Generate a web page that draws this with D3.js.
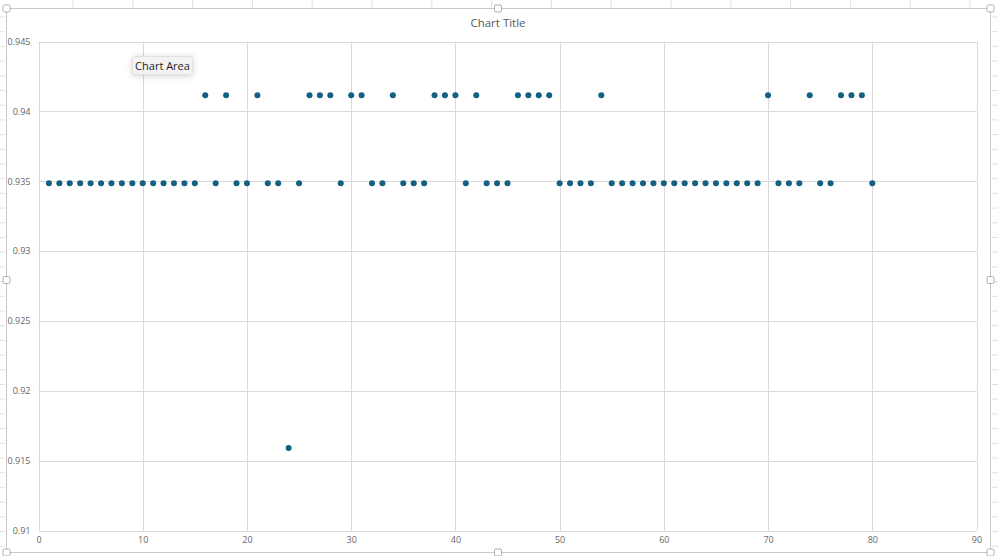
<!DOCTYPE html>
<html><head><meta charset="utf-8">
<script src="https://cdn.jsdelivr.net/npm/d3@7"></script>
<style>
html,body{margin:0;padding:0;background:#fff;}
svg{display:block;font-family:"Open Sans","Liberation Sans",Arial,sans-serif;}
</style></head>
<body><svg id="c" width="998" height="556"></svg>
<script>
// ---- data ----
const xValues = d3.range(1, 81);
const highX = [16,18,21,26,27,28,30,31,34,38,39,40,42,46,47,48,49,54,70,74,77,78,79];
const lowX = [24];
const midValue = 0.93485;
const highValue = 0.94115;
const lowValue = 0.9159;
const yValues = xValues.map(x => highX.includes(x) ? highValue : (lowX.includes(x) ? lowValue : midValue));
const xTicks = [0,10,20,30,40,50,60,70,80,90];
const yTicks = [0.91,0.915,0.92,0.925,0.93,0.935,0.94,0.945];
const chartTitle = "Chart Title";
const tooltipText = "Chart Area";

const svg = d3.select("#c");
const W = 998, H = 556;

// spreadsheet background grid
const bg = svg.append("g");
bg.append("rect").attr("width", W).attr("height", H).attr("fill", "#fff");
for (let x = 73; x < W; x += 59.8) {
  bg.append("line").attr("x1", x).attr("x2", x).attr("y1", 0).attr("y2", 8)
    .attr("stroke", "#e2e2e2").attr("stroke-width", 1);
}
for (let y = 17; y < H; y += 14.7) {
  bg.append("line").attr("x1", 992).attr("x2", W).attr("y1", y).attr("y2", y)
    .attr("stroke", "#e2e2e2");
  bg.append("line").attr("x1", 0).attr("x2", 5).attr("y1", y).attr("y2", y)
    .attr("stroke", "#e2e2e2");
}

// chart area border
svg.append("rect").attr("x", 6.5).attr("y", 8.5).attr("width", 984).attr("height", 544)
  .attr("fill", "#fff").attr("stroke", "#c8c8c8").attr("stroke-width", 1).attr("rx", 2);

// handles
const handles = [[6.5,8.5],[498,8.5],[990.5,8.5],[6.5,280],[990.5,280],[6.5,552.5],[498,552.5],[990.5,552.5]];
svg.selectAll(".h").data(handles).join("rect")
  .attr("x", d => d[0]-3.5).attr("y", d => d[1]-3.5).attr("width", 7).attr("height", 7)
  .attr("rx", 1.5).attr("fill", "#fff").attr("stroke", "#9a9a9a").attr("stroke-width", 0.8);

const m = {left: 38.5, top: 41.5, right: 976.5, bottom: 530.5};
const x = d3.scaleLinear().domain([0, 90]).range([m.left, m.right]);
const y = d3.scaleLinear().domain([0.91, 0.945]).range([m.bottom, m.top]);

// gridlines
const grid = svg.append("g");
grid.selectAll(".gx").data(xTicks).join("line")
  .attr("x1", d => Math.round(x(d))+0.5).attr("x2", d => Math.round(x(d))+0.5)
  .attr("y1", m.top).attr("y2", m.bottom)
  .attr("stroke", "#d9d9d9").attr("stroke-width", 1);
grid.selectAll(".gy").data(yTicks).join("line")
  .attr("x1", m.left).attr("x2", m.right)
  .attr("y1", d => Math.round(y(d))+0.5).attr("y2", d => Math.round(y(d))+0.5)
  .attr("stroke", "#d9d9d9").attr("stroke-width", 1);

// axes
const fmt = d => String(+d.toFixed(3));
const xAxis = svg.append("g").attr("transform", `translate(0,${m.bottom})`)
  .call(d3.axisBottom(x).tickValues(xTicks).tickSize(0).tickPadding(6).tickFormat(fmt));
const yAxis = svg.append("g").attr("transform", `translate(${m.left},0)`)
  .call(d3.axisLeft(y).tickValues(yTicks).tickSize(0).tickPadding(8).tickFormat(fmt));
[xAxis, yAxis].forEach(a => {
  a.select(".domain").remove();
  a.selectAll("text").attr("fill", "#666").style("font-size", "9px")
    .style("font-family", '"Open Sans","Liberation Sans",Arial,sans-serif');
});

// title
svg.append("text").attr("x", 498).attr("y", 27)
  .attr("text-anchor", "middle").attr("fill", "#595959")
  .style("font-size", "11.5px").text(chartTitle);

// points
svg.append("g").selectAll("circle").data(xValues.map((d, i) => [d, yValues[i]])).join("circle")
  .attr("cx", d => x(d[0])).attr("cy", d => y(d[1])).attr("r", 3)
  .attr("fill", "#156082");

// tooltip
const defs = svg.append("defs");
const f = defs.append("filter").attr("id", "sh").attr("x", "-30%").attr("y", "-50%").attr("width", "160%").attr("height", "220%");
f.append("feDropShadow").attr("dx", 0).attr("dy", 1).attr("stdDeviation", 3).attr("flood-color", "#000").attr("flood-opacity", 0.18);
const tt = svg.append("g");
tt.append("rect").attr("x", 132.5).attr("y", 56.5).attr("width", 60).attr("height", 18).attr("rx", 2)
  .attr("fill", "#f3f3f3").attr("stroke", "#dcdcdc").attr("stroke-width", 0.8).attr("filter", "url(#sh)");
tt.append("text").attr("x", 162.5).attr("y", 69.5).attr("text-anchor", "middle")
  .attr("fill", "#1e1e1e").style("font-size", "11px").text(tooltipText);
</script>
</body></html>
